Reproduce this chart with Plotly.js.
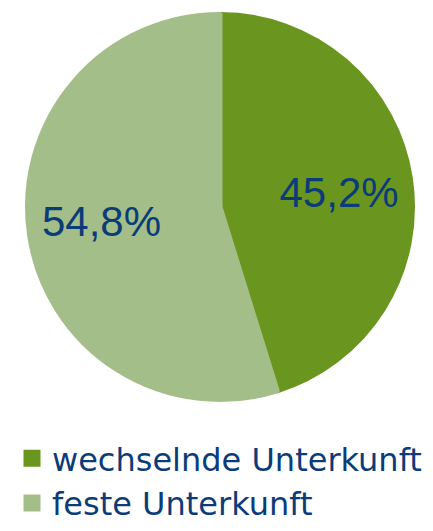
<!DOCTYPE html>
<html><head><meta charset="utf-8">
<script src="https://cdn.plot.ly/plotly-3.0.1.min.js"></script>
<style>html,body{margin:0;padding:0;background:#fff}#chart{width:433px;height:531px}</style>
</head><body><div id="chart"></div>
<script>
const categories = ["wechselnde Unterkunft", "feste Unterkunft"];
const values = [45.2, 54.8];
const valueLabels = ["45,2%", "54,8%"];
const colors = ["#6a961f", "#a4be8a"];

const NB = "\u00a0";
// pad labels with non-breaking spaces so the centred text sits where the reference places it
const padded = [NB.repeat(4) + valueLabels[0], valueLabels[1] + NB.repeat(4)];

const trace = {
  type: "pie",
  labels: categories,
  values: values,
  text: padded,
  textinfo: "text",
  textposition: "inside",
  insidetextorientation: "horizontal",
  textfont: {family: "Liberation Sans, Arial, sans-serif", size: 42, color: "#0b3c78"},
  marker: {colors: colors, line: {width: 5, color: colors}},
  sort: false,
  direction: "clockwise",
  rotation: 0,
  hoverinfo: "none",
  domain: {x: [27.5/433, 412.5/433], y: [1 - 399.5/531, 1 - 14.5/531]}
};

const layout = {
  width: 433, height: 531,
  margin: {l: 0, r: 0, t: 0, b: 0},
  paper_bgcolor: "#fff",
  showlegend: true,
  legend: {
    x: 12/433, y: 0, xanchor: "left", yanchor: "bottom",
    font: {family: "DejaVu Sans, sans-serif", size: 32, color: "#0b3c78"},
    itemwidth: 30
  }
};
Plotly.newPlot("chart", [trace], layout, {displayModeBar: false, staticPlot: true});
</script></body></html>
